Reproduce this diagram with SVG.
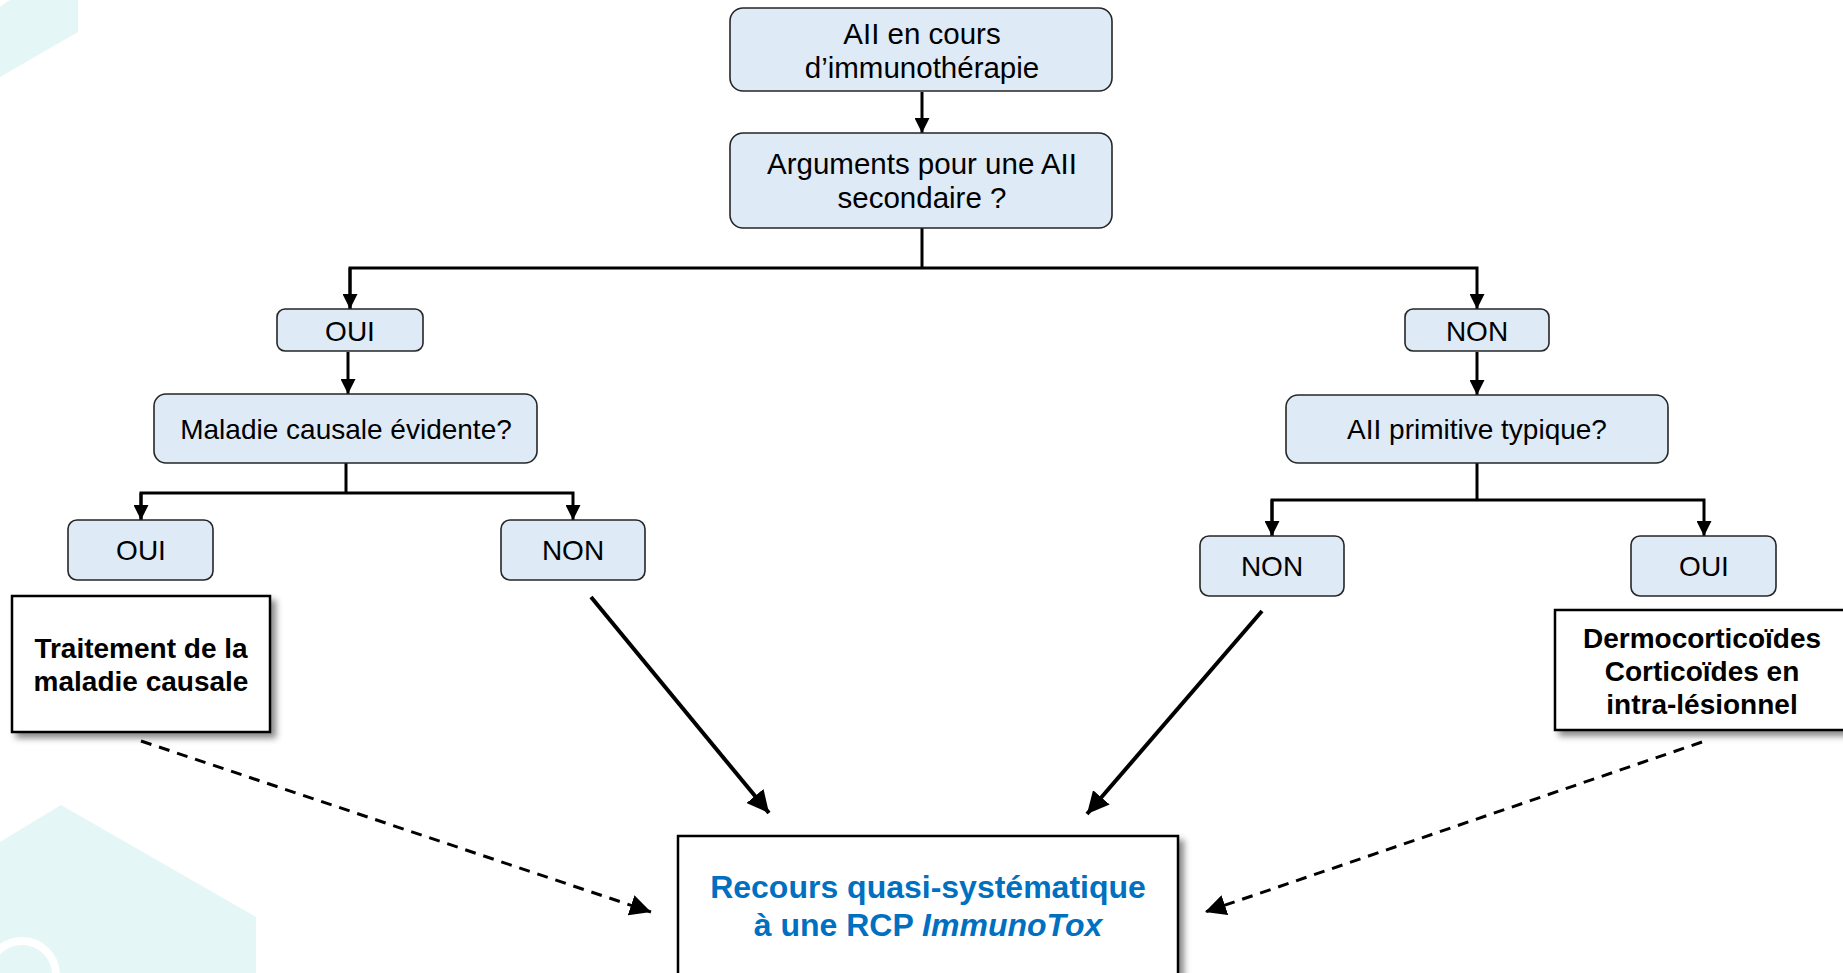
<svg xmlns="http://www.w3.org/2000/svg" width="1843" height="973" viewBox="0 0 1843 973">
<defs>
<style>
.bg{fill:#E4F6F5;stroke:none}
.q{fill:#DEEAF6;stroke:#262626;stroke-width:1.6}
.r{fill:#FFFFFF;stroke:#000;stroke-width:2.5}
.t{font-family:"Liberation Sans",Arial,sans-serif;font-size:28px;fill:#000;text-anchor:middle}
.big{font-size:29.5px}
.b{font-weight:bold}
.blue{font-family:"Liberation Sans",Arial,sans-serif;font-size:32px;font-weight:bold;fill:#0070C0;text-anchor:middle}
.c{fill:none;stroke:#000;stroke-width:3}
.d{fill:none;stroke:#000;stroke-width:4}
.ds{fill:none;stroke:#000;stroke-width:3;stroke-dasharray:11 8}
</style>
<marker id="ah" viewBox="0 0 10 10" refX="10" refY="5" markerWidth="5" markerHeight="5" markerUnits="strokeWidth" orient="auto"><path d="M0,0 L10,5 L0,10 z" fill="#000"/></marker>
<marker id="ah2" viewBox="0 0 10 10" refX="10" refY="5" markerWidth="5.5" markerHeight="5.5" markerUnits="strokeWidth" orient="auto"><path d="M0,0 L10,5 L0,10 z" fill="#000"/></marker>
<marker id="ah3" viewBox="0 0 10 10" refX="10" refY="5" markerWidth="7" markerHeight="7" markerUnits="strokeWidth" orient="auto"><path d="M0,0 L10,5 L0,10 z" fill="#000"/></marker>
<filter id="sh" x="-10%" y="-10%" width="130%" height="130%"><feDropShadow dx="5" dy="5" stdDeviation="3" flood-color="#000" flood-opacity="0.45"/></filter>
</defs>
<rect width="1843" height="973" fill="#FFFFFF"/>
<g id="background">
<polygon class="bg" points="10,0 78,0 78,32 0,77 0,7"/>
<polygon class="bg" points="0,842 61,805 256,917 256,973 0,973"/>
<circle cx="22" cy="975" r="34" fill="none" stroke="#FFFFFF" stroke-width="8"/>
</g>
<g id="connectors">
<line class="c" x1="922" y1="92" x2="922" y2="133" marker-end="url(#ah)"/>
<polyline class="c" points="922,228 922,268"/>
<polyline class="c" points="350,309 350,268 1477,268 1477,309" marker-end="url(#ah)"/>
<line class="c" x1="350" y1="268" x2="350" y2="309" marker-end="url(#ah)"/>
<line class="c" x1="348" y1="352" x2="348" y2="394" marker-end="url(#ah)"/>
<line class="c" x1="346" y1="463" x2="346" y2="493"/>
<polyline class="c" points="141,520 141,493 573,493 573,520" marker-end="url(#ah)"/>
<line class="c" x1="141" y1="493" x2="141" y2="520" marker-end="url(#ah)"/>
<line class="c" x1="1477" y1="352" x2="1477" y2="395" marker-end="url(#ah)"/>
<line class="c" x1="1477" y1="463" x2="1477" y2="500"/>
<polyline class="c" points="1272,536 1272,500 1704,500 1704,536" marker-end="url(#ah)"/>
<line class="c" x1="1272" y1="500" x2="1272" y2="536" marker-end="url(#ah)"/>
<line class="d" x1="591" y1="597" x2="769" y2="813" marker-end="url(#ah2)"/>
<line class="d" x1="1262" y1="611" x2="1087" y2="814" marker-end="url(#ah2)"/>
<line class="ds" x1="141" y1="741" x2="651" y2="912" marker-end="url(#ah3)"/>
<line class="ds" x1="1702" y1="742" x2="1205" y2="912" marker-end="url(#ah3)"/>
</g>
<g id="n_start">
<rect class="q" x="730" y="8" width="382" height="83" rx="13"/>
<text class="t big" x="922" y="44">AII en cours</text>
<text class="t big" x="922" y="78">d’immunothérapie</text>
</g>
<g id="n_arguments">
<rect class="q" x="730" y="133" width="382" height="95" rx="13"/>
<text class="t big" x="922" y="174">Arguments pour une AII</text>
<text class="t big" x="922" y="208">secondaire ?</text>
</g>
<g id="n_oui1">
<rect class="q" x="277" y="309" width="146" height="42" rx="8"/>
<text class="t" x="350" y="341">OUI</text>
</g>
<g id="n_non1">
<rect class="q" x="1405" y="309" width="144" height="42" rx="8"/>
<text class="t" x="1477" y="341">NON</text>
</g>
<g id="n_maladie">
<rect class="q" x="154" y="394" width="383" height="69" rx="12"/>
<text class="t" x="346" y="439">Maladie causale évidente?</text>
</g>
<g id="n_primitive">
<rect class="q" x="1286" y="395" width="382" height="68" rx="12"/>
<text class="t" x="1477" y="439">AII primitive typique?</text>
</g>
<g id="n_oui2">
<rect class="q" x="68" y="520" width="145" height="60" rx="9"/>
<text class="t" x="141" y="560">OUI</text>
</g>
<g id="n_non2">
<rect class="q" x="501" y="520" width="144" height="60" rx="9"/>
<text class="t" x="573" y="560">NON</text>
</g>
<g id="n_non3">
<rect class="q" x="1200" y="536" width="144" height="60" rx="9"/>
<text class="t" x="1272" y="576">NON</text>
</g>
<g id="n_oui3">
<rect class="q" x="1631" y="536" width="145" height="60" rx="9"/>
<text class="t" x="1704" y="576">OUI</text>
</g>
<g id="n_traitement">
<rect class="r" x="12" y="596" width="258" height="136" filter="url(#sh)"/>
<text class="t b" x="141" y="658">Traitement de la</text>
<text class="t b" x="141" y="691">maladie causale</text>
</g>
<g id="n_dermo">
<rect class="r" x="1555" y="610" width="296" height="120" filter="url(#sh)"/>
<text class="t b" x="1702" y="648">Dermocorticoïdes</text>
<text class="t b" x="1702" y="681">Corticoïdes en</text>
<text class="t b" x="1702" y="714">intra-lésionnel</text>
</g>
<g id="n_rcp">
<rect class="r" x="678" y="836" width="500" height="150" filter="url(#sh)"/>
<text class="blue" x="928" y="898">Recours quasi-systématique</text>
<text class="blue" x="928" y="936">à une RCP <tspan font-style="italic">ImmunoTox</tspan></text>
</g>
</svg>
